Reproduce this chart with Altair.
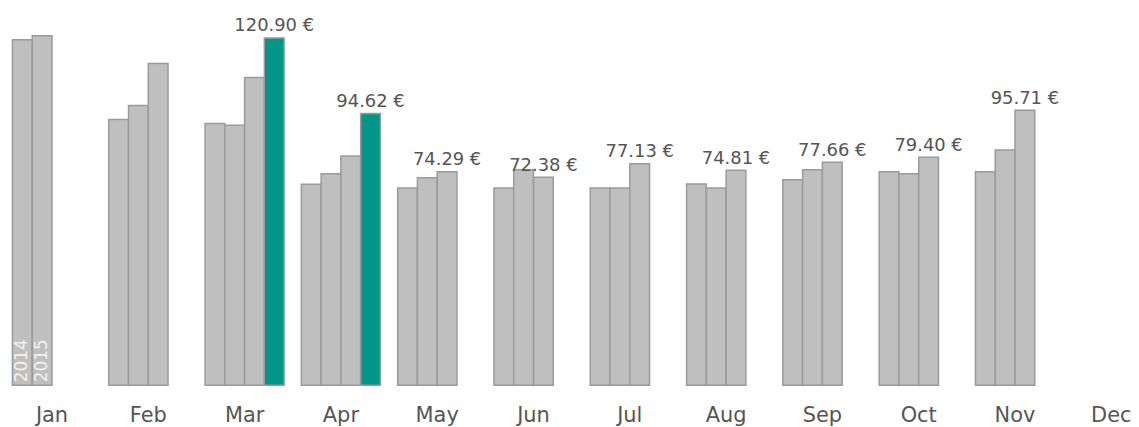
import altair as alt
import pandas as pd

months = ["Jan", "Feb", "Mar", "Apr", "May", "Jun", "Jul", "Aug", "Sep", "Oct", "Nov", "Dec"]
years = ["2014", "2015", "2016", "2017"]
v2014 = [120.3, 92.5, 91.1, 70.0, 68.7, 68.7, 68.7, 70.1, 71.5, 74.3, 74.3, None]
v2015 = [121.7, 97.4, 90.5, 73.6, 72.2, 75.0, 68.7, 68.7, 75.0, 73.6, 81.9, None]
v2016 = [None, 112.0, 107.1, 79.8, 74.29, 72.38, 77.13, 74.81, 77.66, 79.40, 95.71, None]
v2017 = [None, None, 120.90, 94.62, None, None, None, None, None, None, None, None]

label_months = ["Mar", "Apr", "May", "Jun", "Jul", "Aug", "Sep", "Oct", "Nov"]
label_years = ["2017", "2017", "2016", "2016", "2016", "2016", "2016", "2016", "2016"]
label_values = [120.90, 94.62, 74.29, 72.38, 77.13, 74.81, 77.66, 79.40, 95.71]

year_tag_months = ["Jan", "Jan"]
year_tag_years = ["2014", "2015"]

rows = []
for y, vals in zip(years, [v2014, v2015, v2016, v2017]):
    for m, v in zip(months, vals):
        if v is not None:
            rows.append({"month": m, "year": y, "value": v})
bars_df = pd.DataFrame(rows)
labels_df = pd.DataFrame({"month": label_months, "year": label_years, "value": label_values})
tags_df = pd.DataFrame({"month": year_tag_months, "year": year_tag_years, "zero": [0, 0]})

font = "DejaVu Sans"
x_enc = alt.X(
    "month:N",
    sort=months,
    scale=alt.Scale(domain=months, range=[-4.2, 1156.6], paddingInner=0.179, paddingOuter=0.0896),
    axis=alt.Axis(title=None, domain=False, ticks=False, tickSize=0, labelAngle=0,
                  labelFont=font, labelFontSize=21, labelColor="#555555", labelPadding=19,
                  grid=False),
)
xo_enc = alt.XOffset("year:N", scale=alt.Scale(domain=years, paddingInner=0, paddingOuter=0))
y_scale = alt.Scale(domain=[0, 131.0], nice=False, zero=True)

bars = alt.Chart(bars_df).mark_bar(stroke="#9a9a9a", strokeWidth=1.5).encode(
    x=x_enc,
    xOffset=xo_enc,
    y=alt.Y("value:Q", scale=y_scale, axis=None),
    color=alt.Color("year:N", scale=alt.Scale(domain=years, range=["#bfbfbf", "#bfbfbf", "#bfbfbf", "#009688"]), legend=None),
)

labels = alt.Chart(labels_df).transform_calculate(
    txt="format(datum.value, '.2f') + ' €'"
).mark_text(font=font, fontSize=18, color="#555555", baseline="alphabetic", align="center", dy=-6.5).encode(
    x=x_enc,
    xOffset=xo_enc,
    y=alt.Y("value:Q", scale=y_scale, axis=None),
    text="txt:N",
)

tags = alt.Chart(tags_df).mark_text(font=font, fontSize=17, color="#f2f2f2", angle=270, align="left",
                                    baseline="middle", dx=3).encode(
    x=x_enc,
    xOffset=xo_enc,
    y=alt.Y("zero:Q", scale=y_scale, axis=None),
    text="year:N",
)

chart = alt.layer(bars, labels, tags).properties(
    width=1128, height=378,
    autosize=alt.AutoSizeParams(type="none"),
    padding={"left": 0, "top": 0, "right": 0, "bottom": 45},
).configure_view(stroke=None)

chart.save("out.html", embed_options={"renderer": "svg", "actions": False})
